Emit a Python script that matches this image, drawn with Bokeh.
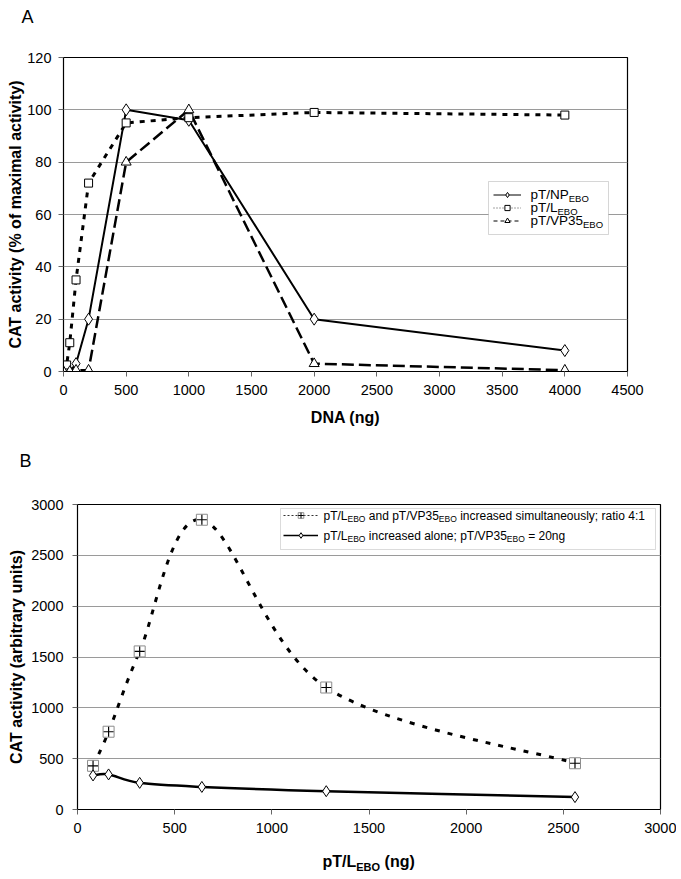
import math
from bokeh.plotting import figure
from bokeh.models import (Range1d, Label, Legend, LegendItem, FixedTicker, BoxAnnotation,
                          LinearAxis)
from bokeh.embed import file_html
from bokeh.resources import INLINE

# ---------------- Panel A data ----------------
np_dna = [0, 25, 50, 100, 200, 500, 1000, 2000, 4000]
np_act = [0, 0, 0, 3, 20, 100, 96, 20, 8]
l_dna = [0, 25, 50, 100, 200, 500, 1000, 2000, 4000]
l_act = [0, 2.5, 11, 35, 72, 95, 97, 99, 98]
vp_dna = [0, 50, 100, 200, 500, 1000, 2000, 4000]
vp_act = [0, 0, 0.5, 0.5, 80, 100, 3, 0.5]
a_xticks = [0, 500, 1000, 1500, 2000, 2500, 3000, 3500, 4000, 4500]
a_yticks = [0, 20, 40, 60, 80, 100, 120]

# ---------------- Panel B data ----------------
b_dose = [80, 160, 320, 640, 1280, 2560]
b_both = [430, 765, 1555, 2850, 1200, 455]
b_alone = [335, 345, 262, 222, 180, 122]
b_xticks = [0, 500, 1000, 1500, 2000, 2500, 3000]
b_yticks = [0, 500, 1000, 1500, 2000, 2500, 3000]

FONT = "Liberation Sans"
NAN = float("nan")
PAGE_W = 676
MID = 0.3465  # baseline -> middle of em box, as a fraction of font size

# Arial-compatible advance widths (per 1000 em) for placing sub-scripts
REG = {' ': 278, '(': 333, ')': 333, '/': 278, ':': 278, ';': 278, '=': 584,
       'A': 667, 'B': 667, 'D': 722, 'E': 667, 'L': 556, 'N': 722, 'O': 778,
       'P': 667, 'T': 611, 'V': 667, 'a': 556, 'c': 500, 'd': 556, 'e': 556,
       'g': 556, 'i': 222, 'l': 222, 'm': 833, 'n': 556, 'o': 556, 'p': 556,
       'r': 333, 's': 500, 't': 278, 'u': 556, 'y': 500}
BOLD = {' ': 278, '(': 333, ')': 333, '/': 278, 'L': 611, 'E': 667, 'B': 722,
        'O': 778, 'T': 611, 'p': 611, 'n': 611, 'g': 611}


def text_width(s, size, bold=False):
    tbl = BOLD if bold else REG
    return sum(tbl.get(ch, 556) for ch in s) * size / 1000.0


def rich_text(p, x, y, segments):
    """segments: list of (text, size, drop); (x, y) is the baseline start"""
    for txt, size, drop in segments:
        lead = len(txt) - len(txt.lstrip(" "))
        p.add_layout(Label(x=x + lead * REG[' '] * size / 1000.0,
                           y=y - drop + MID * size,
                           x_units="screen", y_units="screen",
                           text=txt.lstrip(" "), text_font=FONT, text_font_size=f"{size}px",
                           text_baseline="middle", text_align="left",
                           text_color="black"))
        x += text_width(txt, size)


def smooth(xs, ys):
    x0, y0, x1, y1, cx0, cy0, cx1, cy1 = ([] for _ in range(8))
    n = len(xs)
    for i in range(n - 1):
        xp, yp = (xs[i - 1], ys[i - 1]) if i > 0 else (xs[i], ys[i])
        xn, yn = (xs[i + 2], ys[i + 2]) if i + 2 < n else (xs[i + 1], ys[i + 1])
        x0.append(xs[i]); y0.append(ys[i]); x1.append(xs[i + 1]); y1.append(ys[i + 1])
        cx0.append(xs[i] + (xs[i + 1] - xp) / 6.0); cy0.append(ys[i] + (ys[i + 1] - yp) / 6.0)
        cx1.append(xs[i + 1] - (xn - xs[i]) / 6.0); cy1.append(ys[i + 1] - (yn - ys[i]) / 6.0)
    return dict(x0=x0, y0=y0, x1=x1, y1=y1, cx0=cx0, cy0=cy0, cx1=cx1, cy1=cy1)


def make_fig(w, h, xr, yr, bl, br, bt, bb, xt, yt, xstand, ystand):
    p = figure(width=w, height=h, x_range=Range1d(*xr), y_range=Range1d(*yr),
               output_backend="svg", toolbar_location=None,
               min_border_left=bl, min_border_right=br, min_border_top=bt,
               min_border_bottom=bb)
    p.xgrid.visible = False
    p.ygrid.grid_line_color = "#9a9a9a"
    p.ygrid.grid_line_width = 1
    p.outline_line_color = "black"
    p.outline_line_width = 1.2
    p.xaxis.ticker = FixedTicker(ticks=xt)
    p.yaxis.ticker = FixedTicker(ticks=yt)
    for ax in (p.xaxis[0], p.yaxis[0]):
        ax.major_label_text_font = FONT
        ax.major_label_text_font_size = "14.5px"
        ax.major_label_text_color = "black"
        ax.axis_line_color = "black"
        ax.major_tick_line_color = "#666666"
        ax.major_tick_in = 0
        ax.major_tick_out = 5
        ax.minor_tick_line_color = None
        ax.axis_label_text_font = FONT
        ax.axis_label_text_font_size = "16px"
        ax.axis_label_text_font_style = "bold"
        ax.axis_label_text_color = "black"
    p.xaxis.major_label_standoff = xstand
    p.yaxis.major_label_standoff = ystand
    return p


def letter_strip(letter, h, x, center_from_bottom):
    s = figure(width=PAGE_W, height=h, x_range=Range1d(0, 1), y_range=Range1d(0, 1),
               output_backend="svg", toolbar_location=None,
               x_axis_location=None, y_axis_location=None, min_border=0)
    s.grid.visible = False
    s.outline_line_color = None
    s.add_layout(Label(x=x, y=center_from_bottom, x_units="screen", y_units="screen",
                       text=letter, text_font=FONT, text_font_size="18px",
                       text_baseline="middle", text_align="left", text_color="black"))
    return s


# ================= Panel A =================
stripA = letter_strip("A", 40, 21, 23.2)
pA = make_fig(PAGE_W, 400, (0, 4500), (0, 120), 63, 49, 17, 69, a_xticks, a_yticks, 8, 7)
pA.yaxis.axis_label = "CAT activity (% of maximal activity)"
pA.yaxis.axis_label_standoff = 0
pA.xaxis.axis_label = "DNA (ng)"
pA.xaxis.axis_label_standoff = 11

pA.line(np_dna, np_act, line_color="black", line_width=2)
pA.line(l_dna, l_act, line_color="black", line_width=3, line_dash="5 6")
pA.line(vp_dna, vp_act, line_color="black", line_width=2.5, line_dash="12 5")
pA.scatter(np_dna, np_act, marker="diamond", size=12, fill_color="white", line_color="black", line_width=1)
pA.scatter(l_dna, l_act, marker="square", size=8, fill_color="white", line_color="black", line_width=1)
pA.scatter(vp_dna, vp_act, marker="triangle", size=10, fill_color="white", line_color="black", line_width=1)

# legend A (box + glyph samples + texts)
pA.add_layout(BoxAnnotation(left=425, right=545, bottom=137, top=190,
                            left_units="screen", right_units="screen",
                            bottom_units="screen", top_units="screen",
                            fill_color="white", fill_alpha=1,
                            line_color="#777777", line_width=1))
a_np_l = pA.line([NAN], [NAN], line_color="black", line_width=1)
a_np_m = pA.scatter([NAN], [NAN], marker="diamond", size=7, fill_color="white", line_color="black", line_width=1)
a_l_l = pA.line([NAN], [NAN], line_color="#444444", line_width=1, line_dash="1 2")
a_l_m = pA.scatter([NAN], [NAN], marker="square", size=5, fill_color="white", line_color="black", line_width=1)
a_v_l = pA.line([NAN], [NAN], line_color="black", line_width=1, line_dash="4 3")
a_v_m = pA.scatter([NAN], [NAN], marker="triangle", size=6, fill_color="white", line_color="black", line_width=1)
legA = Legend(items=[LegendItem(label=" ", renderers=[a_np_l, a_np_m]),
                     LegendItem(label=" ", renderers=[a_l_l, a_l_m]),
                     LegendItem(label=" ", renderers=[a_v_l, a_v_m])],
              location=(430, 144.5), orientation="vertical",
              border_line_alpha=0, background_fill_alpha=0,
              glyph_width=28, glyph_height=13, label_height=13, label_width=0,
              label_standoff=0, spacing=0, padding=0, margin=0,
              label_text_font_size="1px")
pA.add_layout(legA)
rich_text(pA, 467, 172, [("pT/NP", 13.5, 0), ("EBO", 9.5, 2)])
rich_text(pA, 467, 159, [("pT/L", 13.5, 0), ("EBO", 9.5, 2)])
rich_text(pA, 467, 146, [("pT/VP35", 13.5, 0), ("EBO", 9.5, 2)])

# ================= Panel B =================
stripB = letter_strip("B", 40, 19, 19.2)
pB = make_fig(PAGE_W, 395, (0, 3000), (0, 3000), 77, 16, 24, 63, b_xticks, b_yticks, 8, 9)
pB.yaxis.axis_label = "CAT activity (arbitrary units)"
pB.yaxis.axis_label_standoff = 3

pB.bezier(**smooth(b_dose, b_both), line_color="black", line_width=3, line_dash="5 8")
pB.bezier(**smooth(b_dose, b_alone), line_color="black", line_width=2.5)
pB.scatter(b_dose, b_both, marker="square", size=11, fill_color="white", line_color="#8c8c8c", line_width=1)
pB.scatter(b_dose, b_both, marker="cross", size=10, line_color="black", line_width=1.2)
pB.scatter(b_dose, b_alone, marker="diamond", size=11, fill_color="white", line_color="black", line_width=1)

# x-axis title with subscript: two text-only axes stacked under the main axis
B_FRAME_W = float(PAGE_W - 77 - 16)
xlab_start = 245.0  # px from frame left


def px_to_x(px):
    return px / B_FRAME_W * 3000.0


w1 = text_width("pT/L", 16, True)
w2 = text_width("EBO", 11, True)
w3 = text_width("(ng)", 16, True)
gap = text_width(" ", 16, True)
big_pos = [px_to_x(xlab_start + w1 / 2), px_to_x(xlab_start + w1 + w2 + gap + w3 / 2)]
small_pos = [px_to_x(xlab_start + w1 + w2 / 2)]

ax_big = LinearAxis(ticker=FixedTicker(ticks=big_pos),
                    major_label_overrides={big_pos[0]: "pT/L", big_pos[1]: "(ng)"},
                    axis_line_color=None, major_tick_line_color=None,
                    minor_tick_line_color=None, major_tick_in=0, major_tick_out=0,
                    major_label_standoff=17, major_label_text_font=FONT,
                    major_label_text_font_size="16px", major_label_text_font_style="bold",
                    major_label_text_color="black")
ax_small = LinearAxis(ticker=FixedTicker(ticks=small_pos),
                      major_label_overrides={small_pos[0]: "EBO"},
                      axis_line_color=None, major_tick_line_color=None,
                      minor_tick_line_color=None, major_tick_in=0, major_tick_out=0,
                      major_label_standoff=-12, major_label_text_font=FONT,
                      major_label_text_font_size="11px", major_label_text_font_style="bold",
                      major_label_text_color="black")
pB.add_layout(ax_big, "below")
pB.add_layout(ax_small, "below")

# legend B
pB.add_layout(BoxAnnotation(left=203, right=578, bottom=260, top=301,
                            left_units="screen", right_units="screen",
                            bottom_units="screen", top_units="screen",
                            fill_color="white", fill_alpha=1,
                            line_color="#888888", line_width=1))
b_1_l = pB.line([NAN], [NAN], line_color="#333333", line_width=1, line_dash="2 2")
b_1_s = pB.scatter([NAN], [NAN], marker="square", size=8, fill_color="white", line_color="#8c8c8c", line_width=1)
b_1_c = pB.scatter([NAN], [NAN], marker="cross", size=7, line_color="black", line_width=1)
b_2_l = pB.line([NAN], [NAN], line_color="black", line_width=1.3)
b_2_m = pB.scatter([NAN], [NAN], marker="diamond", size=7, fill_color="white", line_color="black", line_width=1)
legB = Legend(items=[LegendItem(label=" ", renderers=[b_1_l, b_1_s, b_1_c]),
                     LegendItem(label=" ", renderers=[b_2_l, b_2_m])],
              location=(206, 264), orientation="vertical",
              border_line_alpha=0, background_fill_alpha=0,
              glyph_width=35, glyph_height=14, label_height=20, label_width=0,
              label_standoff=0, spacing=0, padding=0, margin=0,
              label_text_font_size="1px")
pB.add_layout(legB)
rich_text(pB, 246, 289.5, [("pT/L", 12, 0), ("EBO", 8.5, 2), (" and pT/VP35", 12, 0),
                           ("EBO", 8.5, 2), (" increased simultaneously; ratio 4:1", 12, 0)])
rich_text(pB, 246, 269.5, [("pT/L", 12, 0), ("EBO", 8.5, 2),
                           (" increased alone; pT/VP35", 12, 0), ("EBO", 8.5, 2),
                           (" = 20ng", 12, 0)])

open("out.html", "w").write(file_html([stripA, pA, stripB, pB], INLINE))
